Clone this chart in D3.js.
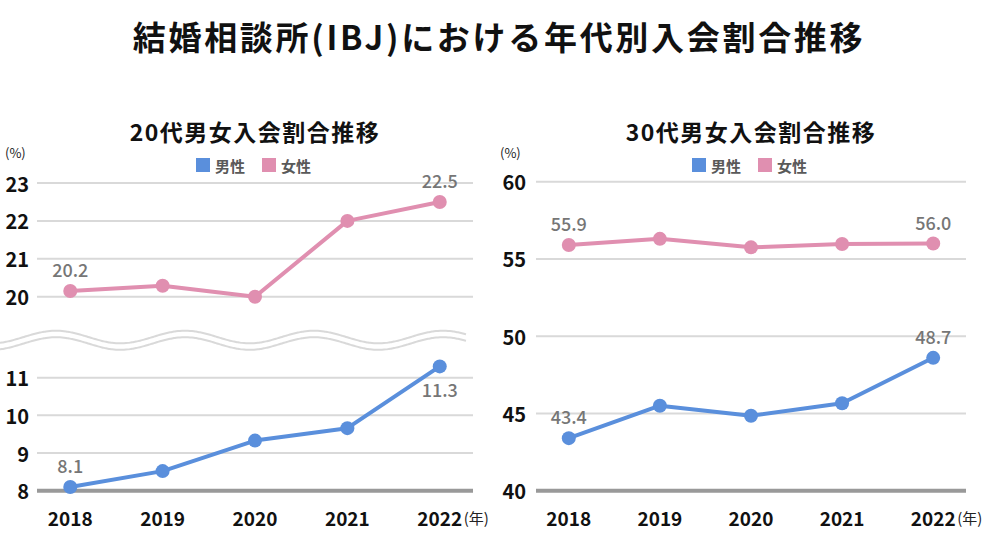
<!DOCTYPE html>
<html><head><meta charset="utf-8">
<script src="https://cdn.jsdelivr.net/npm/d3@7"></script>
<style>
html,body{margin:0;padding:0;background:#fff;}
svg{display:block;font-family:"Noto Sans CJK JP","Noto Sans",sans-serif;}
</style></head>
<body>
<svg id="chart" width="993" height="540"></svg>
<script>
const years = ["2018","2019","2020","2021","2022"];
const male20 = [8.1, 8.52, 9.33, 9.66, 11.3];
const female20 = [20.15, 20.29, 20.0, 22.0, 22.5];
const male30 = [43.4, 45.5, 44.85, 45.66, 48.6];
const female30 = [55.9, 56.3, 55.75, 55.97, 56.0];
const label20Male = [{i:0, text:"8.1", pos:"above"}, {i:4, text:"11.3", pos:"below"}];
const label20Female = [{i:0, text:"20.2", pos:"above"}, {i:4, text:"22.5", pos:"above"}];
const label30Male = [{i:0, text:"43.4", pos:"above"}, {i:4, text:"48.7", pos:"above"}];
const label30Female = [{i:0, text:"55.9", pos:"above"}, {i:4, text:"56.0", pos:"above"}];
const ticks20Top = [20,21,22,23];
const ticks20Bottom = [8,9,10,11];
const ticks30 = [40,45,50,55,60];
const seriesNames = ["男性","女性"];
const mainTitle = "結婚相談所(IBJ)における年代別入会割合推移";
const subTitles = ["20代男女入会割合推移","30代男女入会割合推移"];

const BLUE = "#5a8fdc", PINK = "#e08fb0", GRID = "#d9d9d9", AXIS = "#999999", LABEL = "#767676";
const svg = d3.select("#chart");

svg.append("text").attr("x", 499).attr("y", 36).attr("text-anchor","middle")
  .attr("dominant-baseline","central").attr("font-size", 33).attr("font-weight", 700)
  .attr("letter-spacing", 2.7).attr("fill","#111").text(mainTitle);

function panel(opts){
  const g = svg.append("g");
  const x = d3.scalePoint().domain(years).range([opts.x0, opts.x1]).padding(0.36);
  const cx = (opts.x0 + opts.x1)/2;
  g.append("text").attr("x", cx).attr("y", 131).attr("text-anchor","middle")
    .attr("dominant-baseline","central").attr("font-size", 23).attr("font-weight", 700)
    .attr("letter-spacing", 1.5).attr("fill","#111").text(opts.title);
  g.append("text").attr("x", opts.pctX).attr("y", 152).attr("dominant-baseline","central")
    .attr("font-size", 13).attr("fill","#222").text("(%)");
  // legend
  const lg = g.append("g").attr("transform", `translate(${cx - 59},165)`);
  [[BLUE, seriesNames[0], 0],[PINK, seriesNames[1], 66]].forEach(([c,t,dx])=>{
    lg.append("rect").attr("x", dx).attr("y", -7).attr("width", 14).attr("height", 14).attr("fill", c);
    lg.append("text").attr("x", dx+19).attr("y", 0).attr("dominant-baseline","central")
      .attr("font-size", 15).attr("font-weight", 600).attr("fill","#595959").text(t);
  });
  // gridlines and ticks
  opts.scales.forEach(s => {
    s.ticks.forEach(t => {
      const y = s.y(t);
      if (t !== opts.baseValue) {
        g.append("line").attr("x1", opts.x0).attr("x2", opts.x1).attr("y1", y).attr("y2", y)
          .attr("stroke", GRID).attr("stroke-width", 2);
      }
      g.append("text").attr("x", opts.tickX).attr("y", y).attr("text-anchor","end")
        .attr("dominant-baseline","central").attr("font-size", 20).attr("font-weight", 600)
        .attr("fill","#111").text(t);
    });
  });
  // baseline
  const by = opts.baseScale(opts.baseValue);
  g.append("line").attr("x1", opts.x0).attr("x2", opts.x1).attr("y1", by).attr("y2", by)
    .attr("stroke", AXIS).attr("stroke-width", 4);
  // x labels
  years.forEach(yv => {
    g.append("text").attr("x", x(yv)).attr("y", 517).attr("text-anchor","middle")
      .attr("dominant-baseline","central").attr("font-size", 19).attr("font-weight", 600)
      .attr("fill","#111").text(yv);
  });
  g.append("text").attr("x", x(years[4]) + 24).attr("y", 517).attr("dominant-baseline","central")
    .attr("font-size", 15).attr("fill","#222").text("(年)");
  // series
  opts.series.forEach(sr => {
    const line = d3.line().x((d,i)=>x(years[i])).y(d=>sr.y(d));
    g.append("path").datum(sr.values).attr("d", line).attr("fill","none")
      .attr("stroke", sr.color).attr("stroke-width", 4).attr("stroke-linejoin","round");
    g.selectAll(null).data(sr.values).enter().append("circle")
      .attr("cx", (d,i)=>x(years[i])).attr("cy", d=>sr.y(d)).attr("r", 7).attr("fill", sr.color);
    sr.labels.forEach(l => {
      const py = sr.y(sr.values[l.i]);
      g.append("text").attr("x", x(years[l.i])).attr("y", l.pos === "above" ? py - 22 : py + 23)
        .attr("text-anchor","middle").attr("dominant-baseline","central")
        .attr("font-size", 18).attr("font-weight", 500).attr("fill", LABEL).text(l.text);
    });
  });
  return g;
}

// 20s panel with broken axis
const yTop = d3.scaleLinear().domain([20,23]).range([296.7,183]);
const yBot = d3.scaleLinear().domain([8,11]).range([490.7,377.7]);
const p1 = panel({
  x0: 37, x1: 473, tickX: 29, pctX: 5, title: subTitles[0],
  scales: [{y:yTop, ticks:ticks20Top},{y:yBot, ticks:ticks20Bottom}],
  baseScale: yBot, baseValue: 8,
  series: [
    {values: female20, y: yTop, color: PINK, labels: label20Female},
    {values: male20, y: yBot, color: BLUE, labels: label20Male}
  ]
});
// wavy break
const waveX = d3.range(0, 468, 2);
const wave = off => d3.line().x(d=>d).y(d=> 337 + off - 6.3*Math.cos(2*Math.PI*(d-56)/129)).curve(d3.curveBasis)(waveX);
[0, 6.5].forEach(off => {
  svg.append("path").attr("d", wave(off)).attr("fill","none").attr("stroke", GRID).attr("stroke-width", 2);
});

// 30s panel
const y30 = d3.scaleLinear().domain([40,60]).range([490.7,181.7]);
panel({
  x0: 536, x1: 966, tickX: 526, pctX: 500, title: subTitles[1],
  scales: [{y:y30, ticks:ticks30}],
  baseScale: y30, baseValue: 40,
  series: [
    {values: female30, y: y30, color: PINK, labels: label30Female},
    {values: male30, y: y30, color: BLUE, labels: label30Male}
  ]
});
</script>
</body></html>
